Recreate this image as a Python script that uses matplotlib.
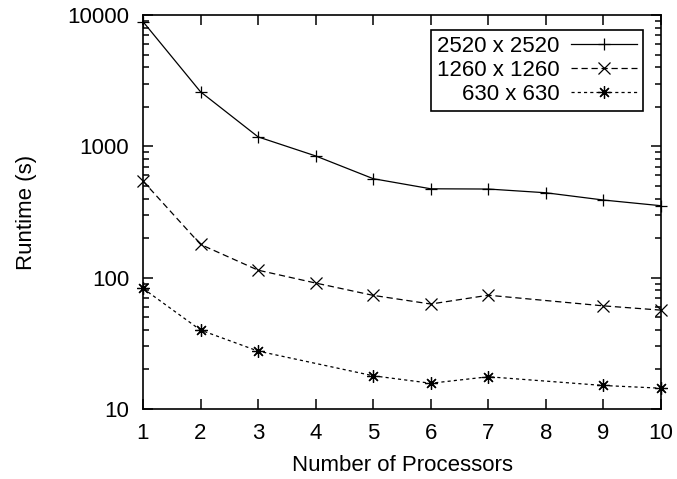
import matplotlib
matplotlib.use('Agg')
import matplotlib.pyplot as plt
from matplotlib.ticker import FixedLocator, LogLocator, NullFormatter

plt.rcParams['font.family'] = ['Liberation Sans', 'DejaVu Sans']

# Runtime (s), per problem size
procs_2520 = [1, 2, 3, 4, 5, 6, 7, 8, 9, 10]
runtime_2520 = [8900, 2600, 1180, 845, 567, 475, 473, 443, 390, 353]

procs_1260 = [1, 2, 3, 4, 5, 6, 7, 9, 10]
runtime_1260 = [544, 179, 114, 91, 73.3, 63, 73.5, 61, 56.6]

procs_630 = [1, 2, 3, 5, 6, 7, 9, 10]
runtime_630 = [82.8, 39.9, 27.6, 17.9, 15.7, 17.6, 15.1, 14.4]

x_ticks = [1, 2, 3, 4, 5, 6, 7, 8, 9, 10]
y_ticks = [10, 100, 1000, 10000]
y_labels = ['10', '100', '1000', '10000']

fs = 16

figure = plt.figure(figsize=(6.77, 4.79), dpi=100)
ax = figure.add_axes([143 / 677, 1 - 409 / 479, (661 - 143) / 677, (409 - 15) / 479])

lw = 0.9
ax.plot(procs_2520, runtime_2520, color='black', lw=lw, linestyle='-',
        marker='+', ms=9, mew=0.9, label='2520 x 2520', clip_on=False)
ax.plot(procs_1260, runtime_1260, color='black', lw=lw, linestyle=(0, (5, 3)),
        marker='x', ms=8, mew=0.9, label='1260 x 1260', clip_on=False)
ax.plot(procs_630, runtime_630, color='black', lw=lw, linestyle=(0, (2.5, 2.5)),
        marker=(8, 2, 0), ms=9, mew=0.9, label='630 x 630', clip_on=False)

ax.set_yscale('log')
ax.set_xlim(1, 10)
ax.set_ylim(10, 10000)

ax.xaxis.set_major_locator(FixedLocator(x_ticks))
ax.set_xticklabels([str(t) for t in x_ticks])
ax.yaxis.set_major_locator(FixedLocator(y_ticks))
ax.set_yticklabels(y_labels)
ax.yaxis.set_minor_locator(LogLocator(base=10, subs=range(2, 10)))
ax.yaxis.set_minor_formatter(NullFormatter())

ax.tick_params(which='both', direction='in', top=True, right=True,
               labelsize=fs, width=1.1, color='black')
ax.tick_params(which='major', length=7, pad=10)
ax.tick_params(which='minor', length=4)
for s in ax.spines.values():
    s.set_linewidth(1.2)

ax.set_xlabel('Number of Processors', fontsize=fs, labelpad=8)
ax.set_ylabel('Runtime (s)', fontsize=fs, labelpad=22)

leg = ax.legend(loc='upper right', bbox_to_anchor=(643 / 677, 1 - 30 / 479),
                bbox_transform=figure.transFigure, markerfirst=False,
                fontsize=fs, handlelength=3.0, handletextpad=0.5,
                labelspacing=0.15, borderpad=0.25, borderaxespad=0,
                fancybox=False, framealpha=1, edgecolor='black')
leg.get_frame().set_linewidth(1.2)

plt.savefig('out.png', dpi=100)
